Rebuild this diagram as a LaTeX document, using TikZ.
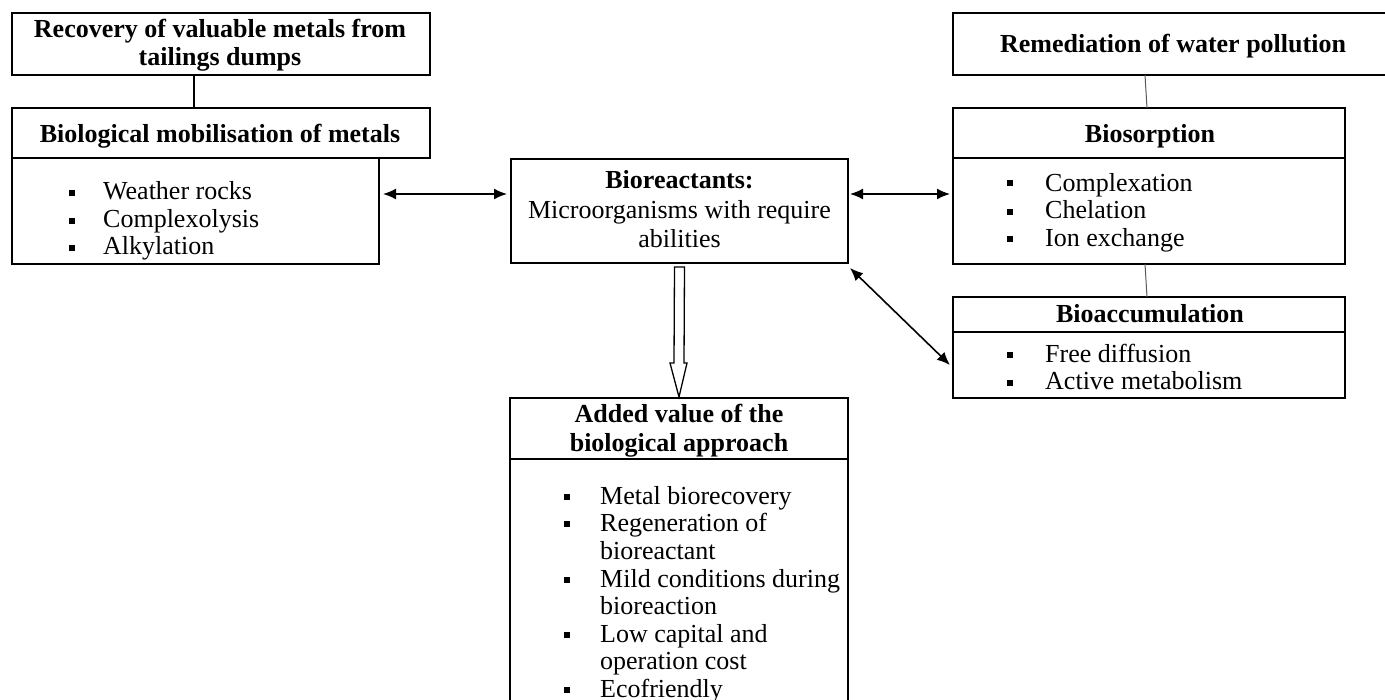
\documentclass[tikz,border=0pt]{standalone}
\usepackage{fontspec}
\setmainfont{Liberation Serif}
\usetikzlibrary{arrows.meta,calc}
\begin{document}
\begin{tikzpicture}[x=1pt,y=-1pt,
  box/.style={draw, line width=1.5pt, rectangle, inner sep=0pt, outer sep=0pt},
  hd/.style={font=\fontsize{26}{28}\selectfont\bfseries, anchor=base, inner sep=0pt},
  rg/.style={font=\fontsize{26}{28}\selectfont, anchor=base, inner sep=0pt},
  tx/.style={font=\fontsize{26}{28}\selectfont, anchor=base west, inner sep=0pt},
  bul/.style={fill=black, rectangle, minimum size=6pt, inner sep=0pt},
  dbl/.style={{Latex[length=13pt,width=11pt]}-{Latex[length=13pt,width=11pt]}, line width=1.6pt},
  conn/.style={line width=1.5pt},
  thinconn/.style={line width=1pt, draw=black!65},
  hollow/.style={line width=1.3pt, fill=white}]
\clip (0,0) rectangle (1385,700);
\fill[white] (0,0) rectangle (1385,700);

% ---- left column
\node[box, minimum width=418pt, minimum height=62pt] (rec) at (221,44) {};
\node[hd] (recA) at (220,38) {Recovery of valuable metals from};
\node[hd] (recB) at (220,66) {tailings dumps};

\node[box, minimum width=418pt, minimum height=50pt] (bioh) at (221,133) {};
\node[hd] (biohT) at (220,143) {Biological mobilisation of metals};

\node[box, minimum width=367pt, minimum height=106pt] (biob) at (195.5,211) {};
\node[bul] (bl1) at (72,193) {};
\node[tx] (tl1) at (103,200) {Weather rocks};
\node[bul] (bl2) at (72,221) {};
\node[tx] (tl2) at (103,228) {Complexolysis};
\node[bul] (bl3) at (72,248) {};
\node[tx] (tl3) at (103,255) {Alkylation};

\coordinate (lx) at (194,0);
\draw[conn] (rec.south -| lx) -- (bioh.north -| lx);

% ---- centre
\node[box, minimum width=337pt, minimum height=104pt] (cen) at (679.5,211) {};
\node[hd] (cenA) at (679.5,189) {Bioreactants:};
\node[rg] (cenB) at (679.5,219) {Microorganisms with require};
\node[rg] (cenC) at (679.5,248) {abilities};

\node[box, minimum width=338pt, minimum height=61pt] (addh) at (679,428.5) {};
\node[hd] (addA) at (679,423) {Added value of the};
\node[hd] (addB) at (679,452) {biological approach};

\node[box, minimum width=338pt, minimum height=261pt] (addb) at (679,589.5) {};
\node[bul] (al1) at (567,497) {};
\node[tx] (at1) at (600,504) {Metal biorecovery};
\node[bul] (al2) at (567,524) {};
\node[tx] (at2) at (600,531) {Regeneration of};
\node[tx] (at2b) at (600,559) {bioreactant};
\node[bul] (al3) at (567,580) {};
\node[tx] (at3) at (600,587) {Mild conditions during};
\node[tx] (at3b) at (600,614) {bioreaction};
\node[bul] (al4) at (567,635) {};
\node[tx] (at4) at (600,642) {Low capital and};
\node[tx] (at4b) at (600,669) {operation cost};
\node[bul] (al5) at (567,690) {};
\node[tx] (at5) at (600,697) {Ecofriendly};

% hollow arrow from centre to added value
\coordinate (hs) at ($(cen.south)+(0,4)$);
\coordinate (ht) at ($(addh.north)+(0,-1)$);
\draw[hollow] ($(hs)+(-5,0)$) -- ($(ht)+(-5,-34)$) -- ($(ht)+(-9,-34)$) -- (ht)
  -- ($(ht)+(8,-34)$) -- ($(ht)+(5,-34)$) -- ($(hs)+(5,0)$) -- cycle;

% ---- right column
\node[box, minimum width=447pt, minimum height=62pt] (rem) at (1176.5,44) {};
\node[hd] (remT) at (1173,53) {Remediation of water pollution};

\node[box, minimum width=392pt, minimum height=50pt] (bsh) at (1149,133) {};
\node[hd] (bshT) at (1150,143) {Biosorption};

\node[box, minimum width=392pt, minimum height=106pt] (bsb) at (1149,211) {};
\node[bul] (rl1) at (1010,183) {};
\node[tx] (rt1) at (1045,192) {Complexation};
\node[bul] (rl2) at (1010,212) {};
\node[tx] (rt2) at (1045,219) {Chelation};
\node[bul] (rl3) at (1010,239) {};
\node[tx] (rt3) at (1045,247) {Ion exchange};

\node[box, minimum width=392pt, minimum height=35pt] (bah) at (1149,314.5) {};
\node[hd] (bahT) at (1150,323) {Bioaccumulation};

\node[box, minimum width=392pt, minimum height=66pt] (bab) at (1149,365) {};
\node[bul] (rl4) at (1010,355) {};
\node[tx] (rt4) at (1045,363) {Free diffusion};
\node[bul] (rl5) at (1010,383) {};
\node[tx] (rt5) at (1045,390) {Active metabolism};

\coordinate (rx1) at (1145,0);
\coordinate (rx2) at (1147,0);
\draw[thinconn] (rem.south -| rx1) -- (bsh.north -| rx2);
\draw[thinconn] (bsb.south -| rx1) -- (bah.north -| rx2);

% ---- double arrows
\coordinate (ay) at (0,194);
\draw[dbl, shorten <=4pt, shorten >=4pt] (biob.east |- ay) -- (cen.west |- ay);
\draw[dbl, shorten <=2pt, shorten >=3pt] (cen.east |- ay) -- (bsb.west |- ay);
\draw[dbl] ($(cen.south east)+(2,5)$) -- ($(bab.west)+(-3,0)$);
\end{tikzpicture}
\end{document}
